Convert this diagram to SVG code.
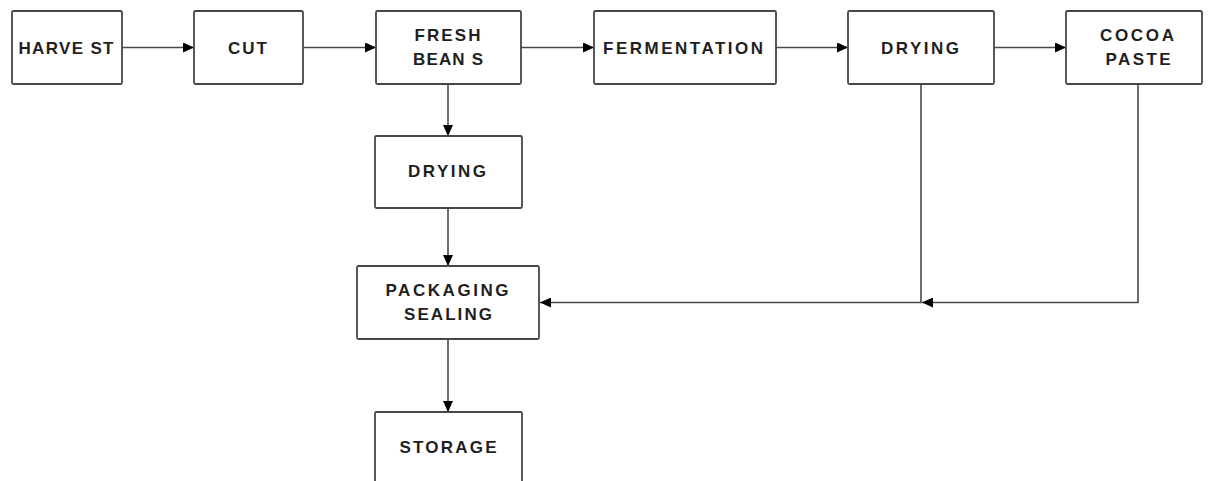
<svg xmlns="http://www.w3.org/2000/svg" width="1208" height="481" viewBox="0 0 1208 481">
<style>
.box{fill:#fff;stroke:#474747;stroke-width:1.8}
.lbl{font-family:"Liberation Sans",Arial,sans-serif;font-weight:bold;font-size:17px;fill:#1f1f1f;text-anchor:middle}
.ln{fill:none;stroke:#4a4a4a;stroke-width:1.6}
</style>
<defs>
<marker id="ah" markerUnits="userSpaceOnUse" markerWidth="12" markerHeight="10" refX="11" refY="5" orient="auto">
<path d="M0,0 L11,5 L0,10 z" fill="#000"/>
</marker>
</defs>
<rect width="1208" height="481" fill="#fff"/>
<g id="connectors">
<line class="ln" x1="122" y1="47.5" x2="194" y2="47.5" marker-end="url(#ah)"/>
<line class="ln" x1="303" y1="47.5" x2="376" y2="47.5" marker-end="url(#ah)"/>
<line class="ln" x1="521" y1="47.5" x2="594" y2="47.5" marker-end="url(#ah)"/>
<line class="ln" x1="776" y1="47.5" x2="848" y2="47.5" marker-end="url(#ah)"/>
<line class="ln" x1="994" y1="47.5" x2="1066" y2="47.5" marker-end="url(#ah)"/>
<line class="ln" x1="448" y1="84" x2="448" y2="136" marker-end="url(#ah)"/>
<line class="ln" x1="448" y1="208" x2="448" y2="266" marker-end="url(#ah)"/>
<line class="ln" x1="448" y1="339" x2="448" y2="412" marker-end="url(#ah)"/>
<polyline class="ln" points="921,84 921,302.5 540,302.5" marker-end="url(#ah)"/>
<polyline class="ln" points="1138,84 1138,302.5 922,302.5" marker-end="url(#ah)"/>
</g>
<g id="harvest"><rect class="box" x="12" y="11" width="110" height="73" rx="1.5"/><text class="lbl" x="66" y="53.5" textLength="95" lengthAdjust="spacing">HARVE ST</text></g>
<g id="cut"><rect class="box" x="194" y="11" width="109" height="73" rx="1.5"/><text class="lbl" x="247.5" y="53.5" textLength="39" lengthAdjust="spacing">CUT</text></g>
<g id="fresh-beans"><rect class="box" x="376" y="11" width="145" height="73" rx="1.5"/><text class="lbl" x="447.5" y="41" textLength="66" lengthAdjust="spacing">FRESH</text><text class="lbl" x="448" y="65" textLength="70" lengthAdjust="spacing">BEAN S</text></g>
<g id="fermentation"><rect class="box" x="594" y="11" width="182" height="73" rx="1.5"/><text class="lbl" x="683" y="53.5" textLength="160" lengthAdjust="spacing">FERMENTATION</text></g>
<g id="drying-1"><rect class="box" x="848" y="11" width="146" height="73" rx="1.5"/><text class="lbl" x="920" y="53.5" textLength="78" lengthAdjust="spacing">DRYING</text></g>
<g id="cocoa-paste"><rect class="box" x="1066" y="11" width="136" height="73" rx="1.5"/><text class="lbl" x="1137" y="41" textLength="74" lengthAdjust="spacing">COCOA</text><text class="lbl" x="1138" y="65" textLength="65" lengthAdjust="spacing">PASTE</text></g>
<g id="drying-2"><rect class="box" x="375" y="136" width="147" height="72" rx="1.5"/><text class="lbl" x="447" y="177" textLength="78" lengthAdjust="spacing">DRYING</text></g>
<g id="packaging-sealing"><rect class="box" x="357" y="266" width="182" height="73" rx="1.5"/><text class="lbl" x="447" y="296" textLength="123" lengthAdjust="spacing">PACKAGING</text><text class="lbl" x="448" y="320" textLength="88" lengthAdjust="spacing">SEALING</text></g>
<g id="storage"><rect class="box" x="375" y="412" width="147" height="80" rx="1.5"/><text class="lbl" x="448" y="453" textLength="97" lengthAdjust="spacing">STORAGE</text></g>
</svg>
